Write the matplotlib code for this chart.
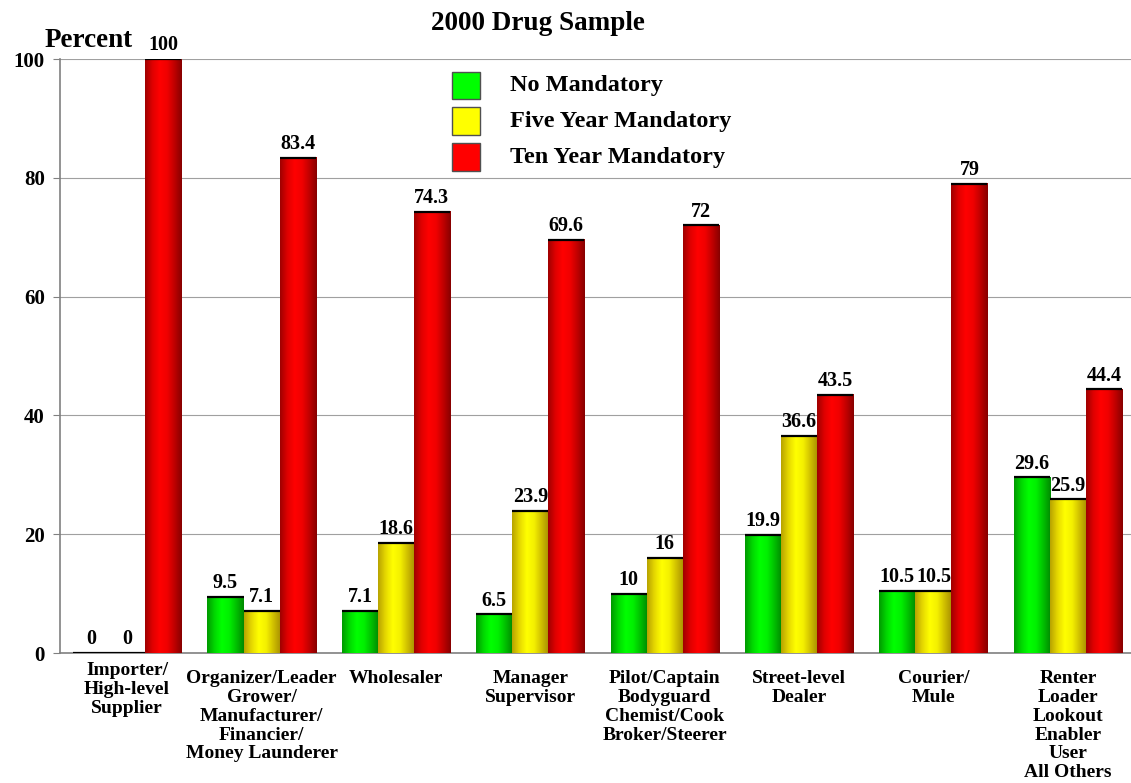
"""
2000 Drug Sample: share of offenders by mandatory minimum status and role.
"""
import matplotlib

matplotlib.use("Agg")
import matplotlib.pyplot as plt
import matplotlib.transforms as mtransforms
import numpy as np
from matplotlib.colors import LinearSegmentedColormap
from matplotlib.patches import Rectangle

plt.rcParams["font.family"] = ["Liberation Serif", "DejaVu Serif"]
plt.rcParams["font.weight"] = "bold"

categories = [
    "Importer/\nHigh-level\nSupplier",
    "Organizer/Leader\nGrower/\nManufacturer/\nFinancier/\nMoney Launderer",
    "Wholesaler",
    "Manager\nSupervisor",
    "Pilot/Captain\nBodyguard\nChemist/Cook\nBroker/Steerer",
    "Street-level\nDealer",
    "Courier/\nMule",
    "Renter\nLoader\nLookout\nEnabler\nUser\nAll Others",
]
series_names = ["No Mandatory", "Five Year Mandatory", "Ten Year Mandatory"]
no_mandatory = [0, 9.5, 7.1, 6.5, 10, 19.9, 10.5, 29.6]
five_year = [0, 7.1, 18.6, 23.9, 16, 36.6, 10.5, 25.9]
ten_year = [100, 83.4, 74.3, 69.6, 72, 43.5, 79, 44.4]
y_ticks = [0, 20, 40, 60, 80, 100]

# shading ramps: dark edge -> bright middle -> dark edge
ramps = [
    ["#009a00", "#00d800", "#00ff00", "#00f000", "#00c000", "#008a00"],
    ["#b8a400", "#e6d800", "#ffff00", "#f4f000", "#d0c000", "#a89000"],
    ["#a00000", "#e00000", "#ff0000", "#f00000", "#c00000", "#880000"],
]
flat = ["#00ff00", "#ffff00", "#ff0000"]

fig = plt.figure(figsize=(11.31, 7.83), dpi=100)
ax = fig.add_axes([0.053, 0.166, 0.947, 0.7586])

x = np.arange(len(categories))
width = 0.268
offsets = [-width, 0, width]
grad = np.linspace(0, 1, 64).reshape(1, -1)

for vals, off, ramp in zip([no_mandatory, five_year, ten_year], offsets, ramps):
    cmap = LinearSegmentedColormap.from_list("r", ramp)
    bars = ax.bar(x + off, vals, width, color="none", edgecolor="none", zorder=3)
    for b, v in zip(bars, vals):
        x0, w = b.get_x(), b.get_width()
        if v > 0:
            ax.imshow(grad, extent=[x0, x0 + w, 0, v], aspect="auto",
                      cmap=cmap, zorder=3, interpolation="bilinear")
        ax.hlines(v, x0, x0 + w, colors="black", linewidth=1.6, zorder=4)
        ax.text(x0 + w / 2, v + 0.6, f"{v:g}", ha="center", va="bottom",
                fontsize=14.5, fontweight="bold", zorder=5)

ax.set_xlim(-0.5, 7.47)
ax.set_ylim(0, 100)
ax.set_yticks(y_ticks)
ax.set_yticklabels([str(t) for t in y_ticks], fontsize=15, fontweight="bold")
ax.set_xticks(x)
ax.set_xticklabels(categories, fontsize=14, fontweight="bold", linespacing=1.15,
                   va="top")
ax.tick_params(axis="x", length=0, pad=12)
ax.tick_params(axis="y", length=5, color="#808080", pad=6)
# first label sits a little higher in the original
first = ax.get_xticklabels()[0]
first.set_transform(first.get_transform()
                    + mtransforms.ScaledTranslation(0, 8 / 100, fig.dpi_scale_trans))
ax.yaxis.grid(True, color="#a0a0a0", linewidth=0.8, zorder=0)
ax.set_axisbelow(True)
for side in ["top", "right"]:
    ax.spines[side].set_visible(False)
for side in ["left", "bottom"]:
    ax.spines[side].set_color("#808080")
    ax.spines[side].set_linewidth(1.2)

fig.text(0.476, 0.970, "2000 Drug Sample", ha="center", va="center",
         fontsize=19.5, fontweight="bold")
fig.text(0.039, 0.948, "Percent", ha="left", va="center",
         fontsize=19.5, fontweight="bold")

# legend drawn manually in axes coordinates
for i, (name, c) in enumerate(zip(series_names, flat)):
    yc = 0.955 - i * 0.0605
    ax.add_patch(Rectangle((0.3664, yc - 0.023), 0.026, 0.047, transform=ax.transAxes,
                           facecolor=c, edgecolor="#505050", linewidth=1,
                           zorder=6, clip_on=False))
    ax.text(0.4204, yc, name, transform=ax.transAxes, ha="left", va="center",
            fontsize=17.5, fontweight="bold", zorder=6)

fig.savefig("out.png", dpi=100)
